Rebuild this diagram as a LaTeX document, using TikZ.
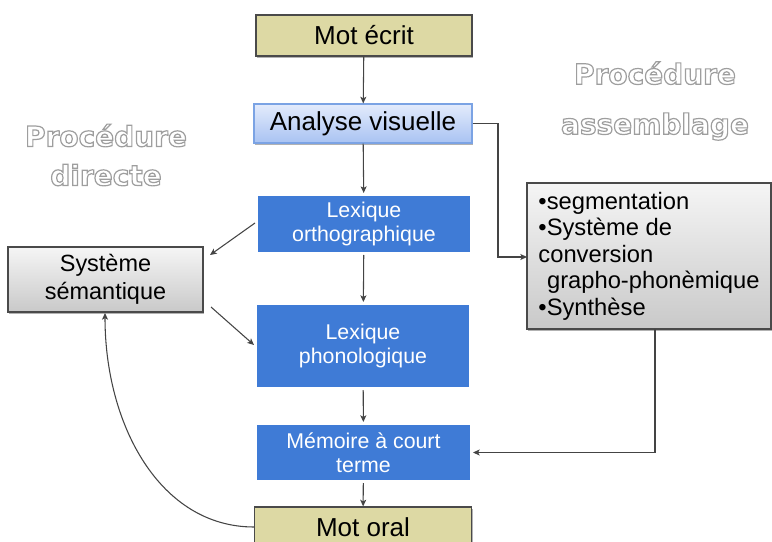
\documentclass[tikz,border=0pt]{standalone}
\usepackage{fontspec}
\setmainfont{Liberation Sans}
\newfontfamily\labelfont{DejaVu Sans}
\usetikzlibrary{shadows,arrows.meta}
\definecolor{khaki}{HTML}{DDD9A4}
\definecolor{bluebox}{HTML}{3F7BD6}
\definecolor{edge}{HTML}{4A4A4A}
\definecolor{lbtop}{HTML}{E3EBFC}
\definecolor{lbbot}{HTML}{A9C3F2}
\definecolor{lbedge}{HTML}{7BA3E4}
\definecolor{gtop}{HTML}{F5F5F5}
\definecolor{gbot}{HTML}{C9C9C9}
\definecolor{arrowcol}{HTML}{444444}
\newcommand{\glowtext}[1]{\special{pdf:literal direct 2 Tr 0.9 w 0.62 0.62 0.62 RG}#1\special{pdf:literal direct 0 Tr}}
\begin{document}
\begin{tikzpicture}[x=0.75pt,y=-0.75pt,
  shd/.style={drop shadow={shadow xshift=0.9pt,shadow yshift=-1.2pt,opacity=0.3,fill=black}},
  khakibox/.style={draw=edge, line width=0.9pt, fill=khaki, inner sep=0pt,
    minimum width=163pt, minimum height=30.75pt, font=\fontsize{19.5}{23}\selectfont, shd},
  bluebx/.style={draw=white, line width=2.25pt, fill=bluebox, text=white, inner sep=0pt,
    align=center, font=\fontsize{16}{18}\selectfont, shd},
  graybox/.style={draw=edge, line width=0.9pt, top color=gtop, bottom color=gbot, inner sep=0pt, shd},
  procl/.style={text=white, align=center, font=\labelfont\bfseries\fontsize{21}{29.25}\selectfont},
  arr/.style={draw=arrowcol, line width=0.8pt, -{Stealth[length=5pt,width=4.5pt,inset=1.2pt]}}
]
\useasboundingbox (0,0) rectangle (772,542);
\clip (0,0) rectangle (772,542);

% labels
\node[procl] (lbldir) at (106,155) {\glowtext{Procédure}\\\glowtext{directe}};
\node[procl, font=\labelfont\bfseries\fontsize{21}{37.5}\selectfont] (lblass) at (655,101) {\glowtext{Procédure}\\\glowtext{assemblage}};

% nodes
\node[khakibox, minimum width=162pt] (motecrit) at (364,35.5) {Mot écrit};
\node[draw=lbedge, line width=0.9pt, top color=lbtop, bottom color=lbbot, inner sep=0pt,
  minimum width=163.5pt, minimum height=29.25pt, font=\fontsize{19.5}{23}\selectfont, shd]
  (analyse) at (363,123.5) {Analyse visuelle};
\node[bluebx, minimum width=161.25pt, minimum height=44.25pt] (lexortho) at (364,224) {Lexique\\orthographique};
\node[bluebx, minimum width=161.25pt, minimum height=63.75pt] (lexphono) at (363,346) {Lexique\\phonologique};
\node[bluebx, minimum width=162pt, minimum height=43.5pt] (memoire) at (363.5,452.5) {Mémoire à court\\terme};
\node[khakibox] (motoral) at (363,527.5) {Mot oral};
\node[graybox, minimum width=146.25pt, minimum height=48.75pt, align=center,
  font=\fontsize{17.6}{21}\selectfont] (semantique) at (105.5,279.5) {Système\\sémantique};
\node[graybox, minimum width=183pt, minimum height=109.5pt, align=left,
  font=\fontsize{17.8}{19.9}\selectfont] (rightbox) at (649,256)
  {•segmentation\\•Système de\\conversion\\\hspace*{6.5pt}grapho-phonèmique\\•Synthèse};

% connectors
\draw[arr] (motecrit) -- (analyse);
\draw[arr] (analyse) -- (lexortho);
\draw[arr] (lexortho) -- (lexphono);
\draw[arr] (lexphono) -- (memoire);
\draw[arr] (memoire) -- (motoral);
\coordinate (j1) at (498,123.5);
\coordinate (rin) at (527,257);
\draw[arr] (analyse.east) -- (j1) |- (rin);
\coordinate (rout) at (655,329);
\draw[arr] (rout) |- (memoire.east);
\coordinate (o1) at (255,223);
\coordinate (s1) at (210,255);
\draw[arr] (o1) -- (s1);
\coordinate (s2) at (211,307);
\coordinate (p1) at (254,345);
\draw[arr] (s2) -- (p1);
\coordinate (m1) at (254,527);
\coordinate (s3) at (105,313);
\draw[arr] (m1) .. controls (160,527) and (105,425) .. (s3);
\end{tikzpicture}
\end{document}
